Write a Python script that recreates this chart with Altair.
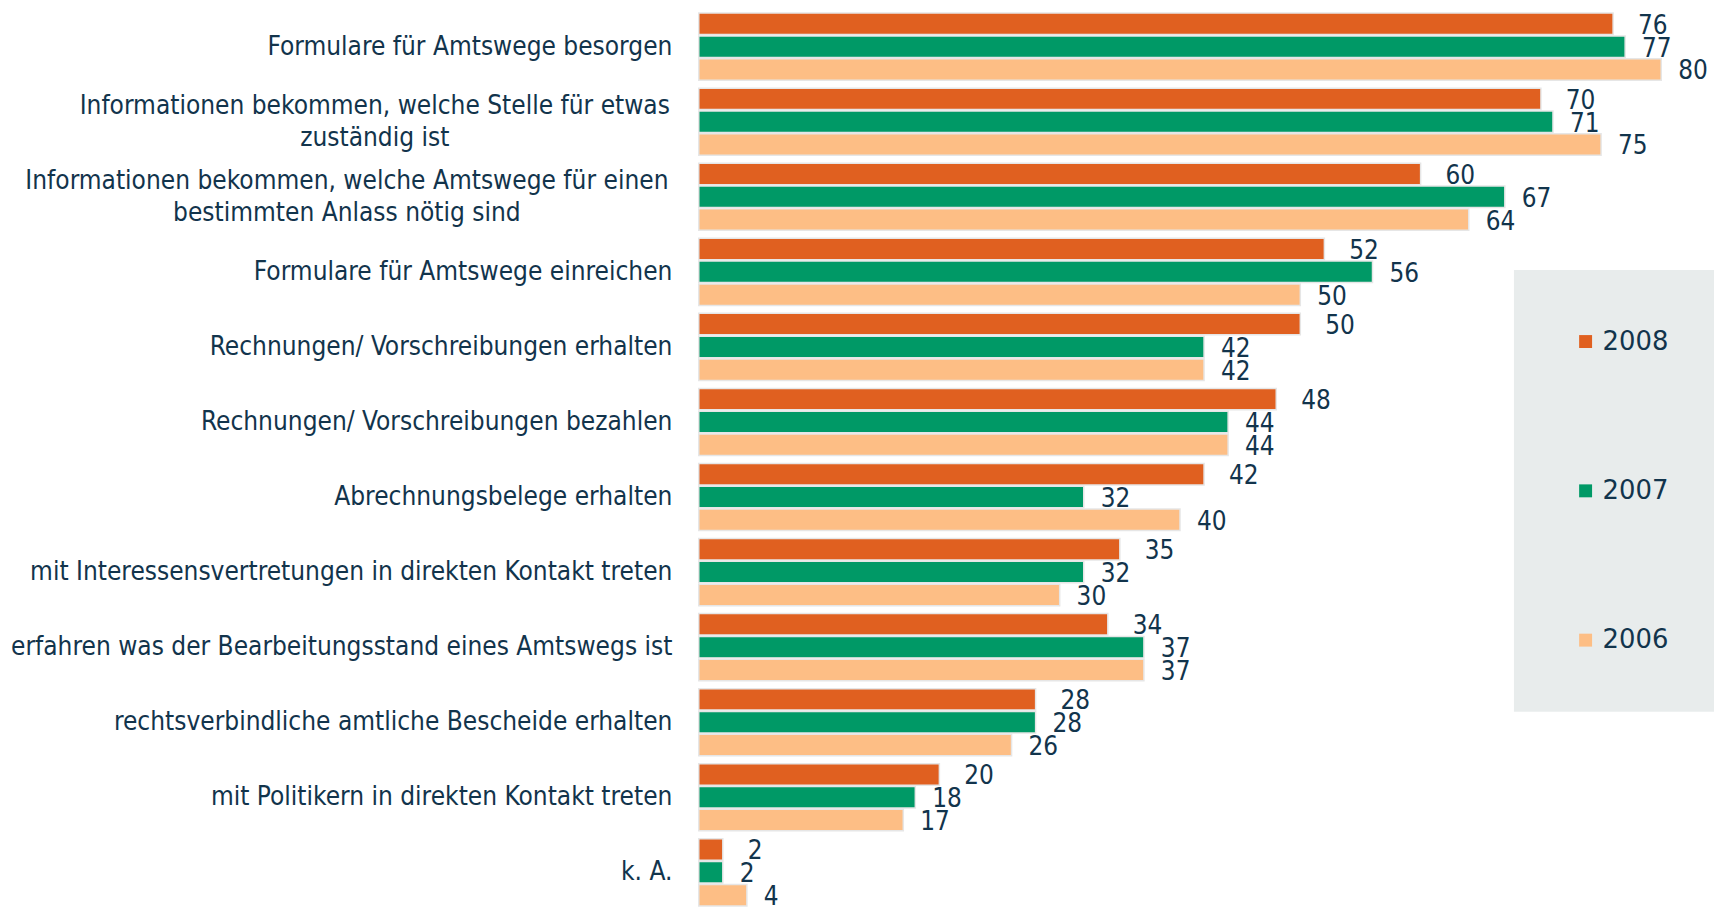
import altair as alt
import pandas as pd

categories = [
    "Formulare für Amtswege besorgen",
    "Informationen bekommen, welche Stelle für etwas\nzuständig ist",
    "Informationen bekommen, welche Amtswege für einen\nbestimmten Anlass nötig sind",
    "Formulare für Amtswege einreichen",
    "Rechnungen/ Vorschreibungen erhalten",
    "Rechnungen/ Vorschreibungen bezahlen",
    "Abrechnungsbelege erhalten",
    "mit Interessensvertretungen in direkten Kontakt treten",
    "erfahren was der Bearbeitungsstand eines Amtswegs ist",
    "rechtsverbindliche amtliche Bescheide erhalten",
    "mit Politikern in direkten Kontakt treten",
    "k. A.",
]
years = ["2008", "2007", "2006"]
v2008 = [76, 70, 60, 52, 50, 48, 42, 35, 34, 28, 20, 2]
v2007 = [77, 71, 67, 56, 42, 44, 32, 32, 37, 28, 18, 2]
v2006 = [80, 75, 64, 50, 42, 44, 40, 30, 37, 26, 17, 4]
colors = ["#E06020", "#009966", "#FDBE85"]

rows = []
for y, vals in zip(years, [v2008, v2007, v2006]):
    for c, v in zip(categories, vals):
        rows.append({"Kategorie": c, "Jahr": y, "Wert": v})
df = pd.DataFrame(rows)

NAVY = "#12344C"
FONT = "DejaVu Sans Condensed, DejaVu Sans"

multi = "indexof(datum.value, '\\n') >= 0"

base = alt.Chart(df).encode(
    y=alt.Y(
        "Kategorie:N",
        sort=categories,
        scale=alt.Scale(domain=categories, paddingInner=0.106, paddingOuter=0.04, range=[0, 903]),
        axis=alt.Axis(
            title=None, domain=False, ticks=False,
            labelPadding={
                "condition": [
                    {"test": "indexof(datum.value, 'Stelle') >= 0", "value": 326},
                    {"test": "indexof(datum.value, 'Anlass') >= 0", "value": 354},
                ],
                "value": 27,
            },
            labelAlign={"condition": {"test": multi, "value": "center"}, "value": "right"},
            labelOffset={"condition": {"test": multi, "value": -16}, "value": 0},
            labelFont=FONT, labelFontSize=26.15, labelColor=NAVY,
            labelLineHeight=32, labelLimit=0,
            labelExpr="split(datum.label, '\\n')",
        ),
    ),
    yOffset=alt.YOffset("Jahr:N", sort=years, scale=alt.Scale(domain=years, paddingInner=0.06)),
    x=alt.X("Wert:Q", scale=alt.Scale(domain=[0, 80], nice=False, zero=True), axis=None),
)

bars = base.mark_bar(stroke="#e6e6e6", strokeWidth=1.5).encode(
    color=alt.Color(
        "Jahr:N",
        sort=years,
        scale=alt.Scale(domain=years, range=colors),
        legend=alt.Legend(
            orient="none", legendX=819, legendY=261, direction="vertical",
            title=None, fillColor="#E8ECEC", padding=59,
            symbolType="square", symbolSize=169, symbolStrokeWidth=0,
            labelFont="DejaVu Sans", labelFontSize=26, labelColor=NAVY,
            labelOffset=4, rowPadding=124,
        ),
    )
)

text_orange = base.transform_filter(alt.datum.Jahr == "2008").mark_text(
    align="left", baseline="middle", dx=25, dy=2, font=FONT, fontSize=26, color=NAVY
).encode(text="Wert:Q")

text_other = base.transform_filter(alt.datum.Jahr != "2008").mark_text(
    align="left", baseline="middle", dx=17, dy=2, font=FONT, fontSize=26, color=NAVY
).encode(text="Wert:Q")

chart = alt.layer(bars, text_orange, text_other).properties(
    width=967,
    height=900,
    padding={"left": 694, "top": 0, "right": 53, "bottom": 0},
    autosize=alt.AutoSizeParams(type="none"),
    background="white",
).configure_view(stroke=None)

chart.save("out.html", embed_options={"renderer": "svg", "actions": False})
